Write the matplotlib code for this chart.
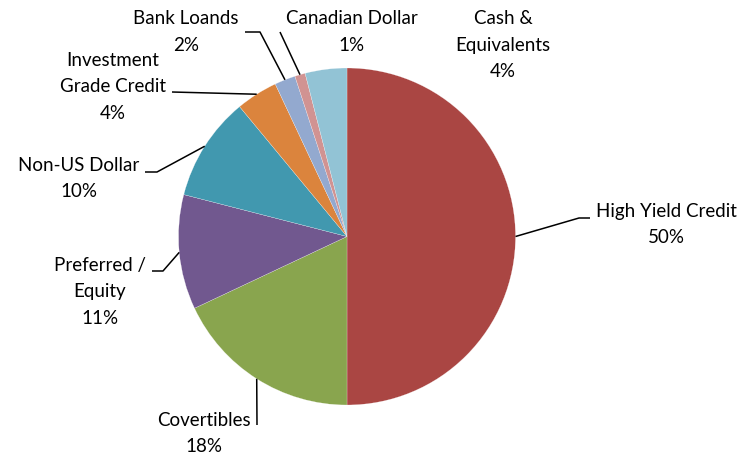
import numpy as np
import matplotlib.pyplot as plt

plt.rcParams['font.family'] = ['Lato', 'DejaVu Sans']

labels = ['High Yield Credit', 'Covertibles', 'Preferred /\nEquity', 'Non-US Dollar',
          'Investment\nGrade Credit', 'Bank Loands', 'Canadian Dollar', 'Cash &\nEquivalents']
shares = [50, 18, 11, 10, 4, 2, 1, 4]
colors = ['#AA4643', '#89A54E', '#71588F', '#4198AF',
          '#DB843D', '#93A9CF', '#D19392', '#92C3D5']

W, H = 744, 455
fig = plt.figure(figsize=(W / 100, H / 100), dpi=100)
ax = fig.add_axes([0, 0, 1, 1])

cx, cy, r = 347, H - 236.5, 168.5
wedges, _ = ax.pie(shares, colors=colors, startangle=90, counterclock=False,
                   center=(cx, cy), radius=r, frame=True,
                   wedgeprops=dict(linewidth=0.15, edgecolor='white'))
ax.set_xlim(0, W)
ax.set_ylim(0, H)
ax.set_aspect('equal')
ax.axis('off')

# label block centres and leader-line bend points (pixel coords, y from top)
text_pos = [(666, 224.5), (204, 433.5), (100, 292), (79, 178.5),
            (113, 87), (186, 32), (352, 32), (503, 45)]
leaders = [[(579, 218), (590, 218)],
           [(257, 425)],
           [(163, 271), (152, 271)],
           [(157, 172), (145, 172)],
           [(172, 92)],
           [(260, 32), (245, 32)],
           [(280, 32)],
           None]

for w, lab, s, (tx, ty), pts in zip(wedges, labels, shares, text_pos, leaders):
    ax.text(tx, H - ty, f'{lab}\n{s}%', ha='center', va='center',
            multialignment='center', fontsize=13.5, linespacing=1.68, color='black')
    if pts is None:
        continue
    ang = np.deg2rad((w.theta1 + w.theta2) / 2)
    xs = [cx + r * np.cos(ang)] + [p[0] for p in pts]
    ys = [cy + r * np.sin(ang)] + [H - p[1] for p in pts]
    ax.plot(xs, ys, color='black', linewidth=1.1, solid_capstyle='butt')

fig.savefig('out.png', dpi=100)
